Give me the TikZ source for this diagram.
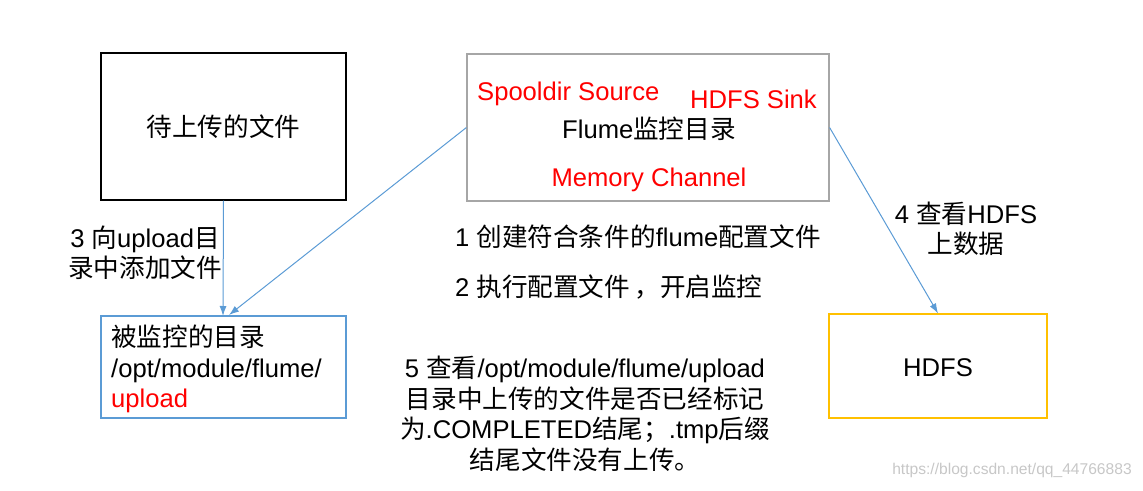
\documentclass[tikz,border=0pt]{standalone}
\usepackage{fontspec}
\setmainfont{Liberation Sans}
\newfontfamily\cjk{Noto Sans CJK SC}
\usetikzlibrary{arrows.meta}
\definecolor{arrowblue}{HTML}{5B9BD5}
\definecolor{boxgray}{HTML}{A6A6A6}
\definecolor{boxyellow}{HTML}{FFC000}
\definecolor{redtxt}{HTML}{FF0000}
\tikzset{
  box/.style={draw, line width=1.2pt, inner sep=0pt},
  txt/.style={inner sep=0pt, font=\fontsize{25.6}{30.5}\selectfont},
  redlabel/.style={txt, text=redtxt},
  conn/.style={draw=arrowblue, line width=1pt, -{Latex[length=10pt,width=7pt]}},
}
\begin{document}
\begin{tikzpicture}[x=1pt,y=-1pt]
\useasboundingbox (0,0) rectangle (1143,490);
% boxes
\node[box, draw=black, line width=1.4pt, minimum width=245pt, minimum height=147pt] (upfile) at (223.5,126.5) {};
\node[box, draw=boxgray, minimum width=362pt, minimum height=147pt] (flume) at (648,127.5) {};
\node[box, draw=arrowblue, minimum width=245pt, minimum height=102pt] (watched) at (223.5,367) {};
\node[box, draw=boxyellow, minimum width=218pt, minimum height=104pt] (hdfs) at (938,366) {};
% box texts
\node[txt] (upfiletxt) at (223.5,127) {\cjk 待上传的文件};
\node[redlabel, anchor=west] (src) at (477,94) {Spooldir Source};
\node[redlabel, anchor=west] (sink) at (690,99) {HDFS Sink};
\node[txt] (flumetxt) at (649,129) {Flume{\cjk 监控目录}};
\node[redlabel] (chan) at (649,180) {Memory Channel};
\node[txt, anchor=west, align=left] (watchedtxt) at (111,369) {{\cjk 被监控的目录}\\/opt/module/flume/\\\textcolor{redtxt}{upload}};
\node[txt] (hdfstxt) at (938,368) {HDFS};
% connectors
\coordinate (a1e) at (223,316);
\draw[conn] (upfile.south) -- (a1e);
\coordinate (a2e) at (229,315);
\draw[conn] (flume.west) -- (a2e);
\draw[conn] (flume.east) -- (hdfs.north);
% labels
\node[txt, align=center] (step3) at (145,253) {3 {\cjk 向}upload{\cjk 目}\\{\cjk 录中添加文件}};
\node[txt, anchor=west] (step1) at (455,237) {1 {\cjk 创建符合条件的}flume{\cjk 配置文件}};
\node[txt, anchor=west] (step2) at (455,287) {2 {\cjk 执行配置文件}\,{\cjk ，开启监控}};
\node[txt, align=center] (step4) at (966,229) {4 {\cjk 查看}HDFS\\{\cjk 上数据}};
\node[txt, align=center] (step5) at (585,414) {5 {\cjk 查看}/opt/module/flume/upload\\{\cjk 目录中上传的文件是否已经标记}\\{\cjk 为}.COMPLETED{\cjk 结尾；}.tmp{\cjk 后缀}\\{\cjk 结尾文件没有上传。}};
\node[inner sep=0pt, text=black!22, font=\fontsize{15.6}{17}\selectfont] (wm) at (1012,470) {https://blog.csdn.net/qq\_44766883};
\end{tikzpicture}
\end{document}
